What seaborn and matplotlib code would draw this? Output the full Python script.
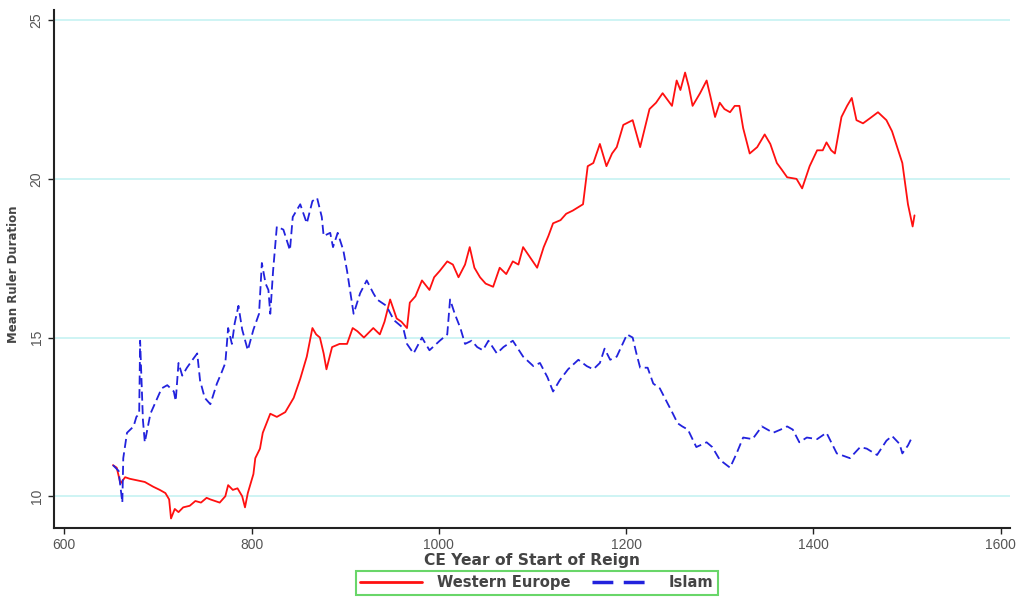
import numpy as np
import pandas as pd
import matplotlib
matplotlib.use("Agg")
import matplotlib.pyplot as plt
import seaborn as sns
from matplotlib.lines import Line2D

# ---- data ----
we_year = [652, 656, 660, 665, 670, 678, 686, 695, 702, 708, 712, 714, 718, 722, 727, 734,
           740, 746, 752, 756, 761, 766, 772, 775, 780, 785, 790, 793, 796, 802, 804, 809,
           812, 816, 820, 827, 836, 845, 852, 859, 865, 869, 873, 877, 880, 886, 894, 902,
           908, 913, 920, 930, 937, 942, 948, 955, 960, 966, 969, 975, 982, 990, 995, 1001,
           1009, 1015, 1021, 1028, 1033, 1038, 1044, 1050, 1058, 1065, 1072, 1079, 1085, 1090,
           1098, 1105, 1112, 1117, 1122, 1130, 1136, 1143, 1154, 1159, 1165, 1172, 1179, 1185,
           1190, 1197, 1207, 1215, 1225, 1232, 1239, 1244, 1249, 1254, 1258, 1263, 1267, 1271,
           1279, 1286, 1290, 1295, 1300, 1305, 1311, 1316, 1321, 1325, 1332, 1340, 1348, 1354,
           1361, 1366, 1372, 1382, 1388, 1396, 1404, 1410, 1414, 1419, 1423, 1430, 1436, 1441,
           1446, 1453, 1460, 1469, 1478, 1484, 1489, 1495, 1501, 1506, 1508]
we_val = [10.98, 10.9, 10.4, 10.6, 10.55, 10.5, 10.45, 10.3, 10.2, 10.1, 9.9, 9.3, 9.6, 9.5, 9.65, 9.7,
          9.85, 9.8, 9.95, 9.9, 9.85, 9.8, 10.0, 10.35, 10.2, 10.25, 10.0, 9.65, 10.1, 10.7, 11.2, 11.5,
          12.0, 12.3, 12.6, 12.5, 12.65, 13.1, 13.7, 14.4, 15.3, 15.1, 15.0, 14.5, 14.0, 14.7, 14.8, 14.8,
          15.3, 15.2, 15.0, 15.3, 15.1, 15.5, 16.2, 15.6, 15.5, 15.3, 16.1, 16.3, 16.8, 16.5, 16.9, 17.1,
          17.4, 17.3, 16.9, 17.3, 17.85, 17.2, 16.9, 16.7, 16.6, 17.2, 17.0, 17.4, 17.3, 17.85,
          17.5, 17.2, 17.85, 18.2, 18.6, 18.7, 18.9, 19.0, 19.2, 20.4, 20.5, 21.1, 20.4, 20.8,
          21.0, 21.7, 21.85, 21.0, 22.2, 22.4, 22.7, 22.5, 22.3, 23.1, 22.8, 23.35, 22.9, 22.3,
          22.7, 23.1, 22.6, 21.95, 22.4, 22.2, 22.1, 22.3, 22.3, 21.6, 20.8, 21.0, 21.4, 21.1,
          20.5, 20.3, 20.05, 20.0, 19.7, 20.4, 20.9, 20.9, 21.15, 20.9, 20.8, 21.95, 22.3, 22.55,
          21.85, 21.75, 21.9, 22.1, 21.85, 21.5, 21.05, 20.5, 19.2, 18.5, 18.85]

isl_year = [652, 658, 662, 663, 667, 674, 677, 680, 681, 684, 686, 692, 698, 704, 710, 717,
            719, 722, 726, 731, 737, 742, 745, 750, 756, 763, 768, 772, 775, 779, 782, 786,
            790, 796, 802, 808, 811, 815, 818, 820, 823, 827, 834, 841, 844, 852, 859, 865,
            870, 875, 877, 884, 887, 892, 898, 902, 909, 916, 923, 930, 934, 944, 952, 962,
            966, 973, 982, 990, 1001, 1009, 1012, 1017, 1023, 1028, 1035, 1041, 1047, 1053, 1062,
            1069, 1079, 1090, 1101, 1108, 1116, 1122, 1129, 1138, 1149, 1158, 1165, 1172, 1177,
            1183, 1190, 1201, 1207, 1211, 1215, 1223, 1229, 1236, 1243, 1250, 1255, 1260, 1266,
            1275, 1286, 1292, 1300, 1311, 1318, 1325, 1335, 1345, 1357, 1365, 1372, 1378, 1385,
            1393, 1404, 1414, 1425, 1439, 1450, 1457, 1468, 1478, 1484, 1492, 1495, 1501, 1506]
isl_val = [10.98, 10.8, 9.8, 11.2, 12.0, 12.2, 12.5, 12.6, 14.9, 12.4, 11.7, 12.6, 13.0, 13.4, 13.5, 13.3,
           13.0, 14.2, 13.8, 14.05, 14.3, 14.5, 13.65, 13.1, 12.9, 13.55, 13.9, 14.2, 15.3, 14.8, 15.45, 16.0,
           15.25, 14.6, 15.25, 15.75, 17.35, 16.7, 16.5, 15.75, 17.1, 18.5, 18.4, 17.75, 18.8, 19.2, 18.6, 19.3,
           19.4, 18.8, 18.2, 18.3, 17.85, 18.3, 17.75, 17.1, 15.75, 16.4, 16.8, 16.4, 16.2, 16.0, 15.55, 15.3,
           14.8, 14.5, 15.0, 14.6, 14.9, 15.1, 16.2, 15.75, 15.3, 14.8, 14.9, 14.7, 14.6, 14.9, 14.5,
           14.7, 14.9, 14.4, 14.1, 14.2, 13.75, 13.3, 13.65, 14.0, 14.3, 14.1, 14.0, 14.2, 14.65,
           14.3, 14.4, 15.1, 15.0, 14.5, 14.05, 14.05, 13.55, 13.4, 13.0, 12.6, 12.3, 12.2, 12.1,
           11.55, 11.7, 11.55, 11.15, 10.9, 11.35, 11.85, 11.8, 12.2, 12.0, 12.1, 12.2, 12.1, 11.7,
           11.85, 11.8, 12.0, 11.35, 11.2, 11.55, 11.5, 11.3, 11.75, 11.9, 11.65, 11.35, 11.6, 11.9]

series_names = ["Western Europe", "Islam"]
x_ticks = [600, 800, 1000, 1200, 1400, 1600]
y_ticks = [10, 15, 20, 25]

df = pd.concat([
    pd.DataFrame({"year": we_year, "value": we_val, "region": series_names[0]}),
    pd.DataFrame({"year": isl_year, "value": isl_val, "region": series_names[1]}),
], ignore_index=True)

sns.set_theme(style="white")
plt.rcParams["font.family"] = ["Liberation Sans", "DejaVu Sans"]

RED = "#ff1010"
BLUE = "#2222dd"

fig = plt.figure(figsize=(10.3, 5.97), dpi=100)
ax = fig.add_axes([0.0524, 0.1156, 0.9282, 0.8676])

sns.lineplot(data=df, x="year", y="value", hue="region", style="region",
             palette={"Western Europe": RED, "Islam": BLUE},
             dashes={"Western Europe": "", "Islam": (5, 2.5)},
             linewidth=1.3, ax=ax, legend=False, sort=False)

ax.set_xlim(589, 1610)
ax.set_ylim(9.0, 25.32)
ax.set_xticks(x_ticks)
ax.set_yticks(y_ticks)
for yv in y_ticks:
    ax.axhline(yv, color="#c6f2f2", lw=1.2, zorder=0)

for s in ["top", "right"]:
    ax.spines[s].set_visible(False)
for s in ["left", "bottom"]:
    ax.spines[s].set_color("#222222")
    ax.spines[s].set_linewidth(1.5)

ax.tick_params(axis="both", direction="out", length=4, width=1, color="#222222",
               labelsize=10, labelcolor="#555555", left=True, bottom=True)
for lab in ax.get_yticklabels():
    lab.set_rotation(90)
    lab.set_va("center")

bold_family = ["DejaVu Sans"]
ax.set_xlabel("CE Year of Start of Reign", fontsize=11.2, color="#444444", labelpad=0.5,
              family=bold_family, fontweight="bold")
ax.set_ylabel("Mean Ruler Duration", fontsize=8.5, color="#444444",
              family=bold_family, fontweight="bold")
ax.yaxis.set_label_coords(-0.036, 0.49)

handles = [Line2D([0], [0], color=RED, lw=2),
           Line2D([0], [0], color=BLUE, lw=2.5, dashes=(6, 3))]
leg = fig.legend(handles, series_names, loc="center", bbox_to_anchor=(0.521, 0.0235),
                 ncol=2, frameon=True, fancybox=False, handlelength=4.2,
                 columnspacing=1.5, borderpad=0.3, handletextpad=1.0,
                 prop={"family": bold_family, "weight": "bold", "size": 10.6})
leg.get_frame().set_edgecolor("#44cc44")
leg.get_frame().set_linewidth(1.5)
for t in leg.get_texts():
    t.set_color("#444444")

fig.savefig("out.png", dpi=100)
